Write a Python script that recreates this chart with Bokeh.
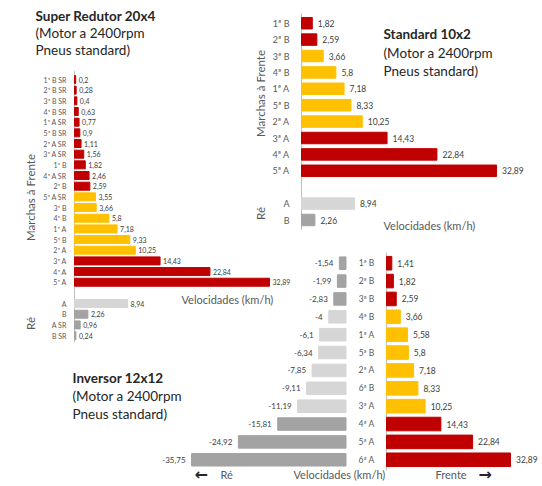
from math import pi
from bokeh.plotting import figure
from bokeh.models import Range1d, ColumnDataSource
from bokeh.core.properties import value
from bokeh.embed import file_html
from bokeh.resources import INLINE

# ---------------- data ----------------
SR_FWD_LABELS = ["1ª B SR", "2ª B SR", "3ª B SR", "4ª B SR", "1ª A SR", "5ª B SR",
                 "2ª A SR", "3ª A SR", "1ª B", "4ª A SR", "2ª B", "5ª A SR", "3ª B",
                 "4ª B", "1ª A", "5ª B", "2ª A", "3ª A", "4ª A", "5ª A"]
SR_FWD = [0.2, 0.28, 0.4, 0.63, 0.77, 0.9, 1.11, 1.56, 1.82, 2.46, 2.59, 3.55, 3.66,
          5.8, 7.18, 9.33, 10.25, 14.43, 22.84, 32.89]
SR_REV_LABELS = ["A", "B", "A SR", "B SR"]
SR_REV = [8.94, 2.26, 0.96, 0.24]

ST_FWD_LABELS = ["1ª B", "2ª B", "3ª B", "4ª B", "1ª A", "5ª B", "2ª A", "3ª A", "4ª A", "5ª A"]
ST_FWD = [1.82, 2.59, 3.66, 5.8, 7.18, 8.33, 10.25, 14.43, 22.84, 32.89]
ST_REV_LABELS = ["A", "B"]
ST_REV = [8.94, 2.26]

INV_LABELS = ["1ª B", "2ª B", "3ª B", "4ª B", "1ª A", "5ª B", "2ª A", "6ª B", "3ª A",
              "4ª A", "5ª A", "6ª A"]
INV_FWD = [1.41, 1.82, 2.59, 3.66, 5.58, 5.8, 7.18, 8.33, 10.25, 14.43, 22.84, 32.89]
INV_REV = [-1.54, -1.99, -2.83, -4, -6.1, -6.34, -7.85, -9.11, -11.19, -15.81, -24.92, -35.75]

# ---------------- style ----------------
RED, YELLOW, LIGHT, DARK = "#C00000", "#FFC000", "#D6D6D6", "#A3A3A3"
AXIS = "#BFBFBF"
LBL, VAL, TTL = "#595959", "#404040", "#262626"
FONT = value("Lato")

def fwd_color(v):
    return YELLOW if 3 <= abs(v) <= 12 else RED

def rev_color(v):
    return LIGHT if 3 <= abs(v) <= 12 else DARK

def fmt(v):
    return f"{v:g}".replace(".", ",")

W, H, OFF = 542, 486, 0

def xr(origin, scale):
    return Range1d((OFF - origin) / scale, (OFF + W - origin) / scale)

def yr(y0, pitch):
    return Range1d((OFF + H - y0) / pitch, (OFF - y0) / pitch)

p = figure(width=W, height=H, output_backend="svg", toolbar_location=None,
           x_range=Range1d(OFF, OFF + W), y_range=Range1d(OFF + H, OFF),
           x_axis_type=None, y_axis_type=None, min_border=0, title=None)
p.grid.visible = False
p.outline_line_color = None

p.extra_x_ranges = {"sr": xr(74, 5.93), "st": xr(301, 5.93),
                    "invR": xr(386, 3.77), "invL": xr(345.5, 4.32)}
p.extra_y_ranges = {"sr": yr(79, 10.67), "st": yr(22.7, 16.4), "inv": yr(262.7, 17.87)}


def panel(xn, yn, labels, vals, idx, colfn, height, lbl_size, val_size, lbl_off, val_off):
    src = ColumnDataSource(dict(y=idx, v=vals, c=[colfn(v) for v in vals],
                                t=[fmt(v) for v in vals], l=labels, z=[0] * len(vals)))
    p.hbar(y="y", left=0, right="v", height=height, color="c", source=src,
           x_range_name=xn, y_range_name=yn)
    p.text(x="v", y="y", text="t", source=src, x_range_name=xn, y_range_name=yn,
           text_font=FONT, text_font_size=val_size, text_color=VAL,
           text_baseline="middle", text_align="left", x_offset=val_off)
    p.text(x="z", y="y", text="l", source=src, x_range_name=xn, y_range_name=yn,
           text_font=FONT, text_font_size=lbl_size, text_color=LBL,
           text_baseline="middle", text_align="right", x_offset=-lbl_off)


def vaxis(xn, yn, top, bottom):
    p.segment(x0=[0], y0=[top], x1=[0], y1=[bottom], line_color=AXIS, line_width=1,
              x_range_name=xn, y_range_name=yn)


def txt(x, y, s, size, color=TTL, bold=False, angle=0, align="left", font=FONT):
    p.text(x=[x], y=[y], text=[s], text_font=font, text_font_size=size,
           text_color=color, text_baseline="middle", text_align=align, angle=angle,
           text_font_style="bold" if bold else "normal")

TS = "13.5px"

# ---- Super Redutor 20x4 ----
n = len(SR_FWD)
vaxis("sr", "sr", -0.8, n + len(SR_REV) + 0.6)
panel("sr", "sr", SR_FWD_LABELS, SR_FWD, list(range(n)), fwd_color, 0.75, "7px", "7px", 8, 3)
panel("sr", "sr", SR_REV_LABELS, SR_REV, [n + 1 + i for i in range(len(SR_REV))], rev_color,
      0.75, "7px", "7px", 8, 3)
txt(35, 15, "Super Redutor 20x4", TS, bold=True)
txt(35, 32, "(Motor a 2400rpm", TS)
txt(35, 49, "Pneus standard)", TS)
txt(30, 197, "Marchas à Frente", "11.5px", color=LBL, angle=pi / 2, align="center")
txt(30, 323, "Ré", "11.5px", color=LBL, angle=pi / 2, align="center")
txt(181, 299, "Velocidades (km/h)", "11px", color=LBL)

# ---- Standard 10x2 ----
n = len(ST_FWD)
vaxis("st", "st", -0.6, n + len(ST_REV) + 0.6)
panel("st", "st", ST_FWD_LABELS, ST_FWD, list(range(n)), fwd_color, 0.7, "9px", "8.5px", 12, 5.5)
panel("st", "st", ST_REV_LABELS, ST_REV, [n + 1 + i for i in range(len(ST_REV))], rev_color,
      0.7, "9px", "8.5px", 12, 5.5)
txt(383, 33, "Standard 10x2", TS, bold=True)
txt(383, 52, "(Motor a 2400rpm", TS)
txt(383, 70, "Pneus standard)", TS)
txt(260, 93, "Marchas à Frente", "11.5px", color=LBL, angle=pi / 2, align="center")
txt(260, 213, "Ré", "11.5px", color=LBL, angle=pi / 2, align="center")
txt(383, 225, "Velocidades (km/h)", "11px", color=LBL)

# ---- Inversor 12x12 ----
n = len(INV_FWD)
idx = list(range(n))
vaxis("invR", "inv", -0.6, n - 0.4)
srcR = ColumnDataSource(dict(y=idx, v=INV_FWD, c=[fwd_color(v) for v in INV_FWD],
                             t=[fmt(v) for v in INV_FWD], l=INV_LABELS, z=[0] * n))
p.hbar(y="y", left=0, right="v", height=0.76, color="c", source=srcR,
       x_range_name="invR", y_range_name="inv")
p.text(x="v", y="y", text="t", source=srcR, x_range_name="invR", y_range_name="inv",
       text_font=FONT, text_font_size="8.5px", text_color=VAL, text_baseline="middle",
       text_align="left", x_offset=5.5)
p.text(x="z", y="y", text="l", source=srcR, x_range_name="invR", y_range_name="inv",
       text_font=FONT, text_font_size="8.5px", text_color=LBL, text_baseline="middle",
       text_align="center", x_offset=-20)
srcL = ColumnDataSource(dict(y=idx, v=INV_REV, c=[rev_color(v) for v in INV_REV],
                             t=[fmt(v) for v in INV_REV]))
p.hbar(y="y", left="v", right=0, height=0.7, color="c", source=srcL,
       x_range_name="invL", y_range_name="inv")
p.text(x="v", y="y", text="t", source=srcL, x_range_name="invL", y_range_name="inv",
       text_font=FONT, text_font_size="8px", text_color=VAL, text_baseline="middle",
       text_align="right", x_offset=-6)
txt(72, 377, "Inversor 12x12", TS, bold=True)
txt(72, 395, "(Motor a 2400rpm", TS)
txt(72, 413, "Pneus standard)", TS)
txt(194, 474, "←", "16px", color="#262626", bold=True, font=value("DejaVu Sans"))
txt(220, 474, "Ré", "11px", color=LBL)
txt(293, 474, "Velocidades (km/h)", "11px", color=LBL)
txt(435, 474, "Frente", "11px", color=LBL)
txt(478, 474, "→", "16px", color="#262626", bold=True, font=value("DejaVu Sans"))

open("out.html", "w").write(file_html(p, INLINE))
